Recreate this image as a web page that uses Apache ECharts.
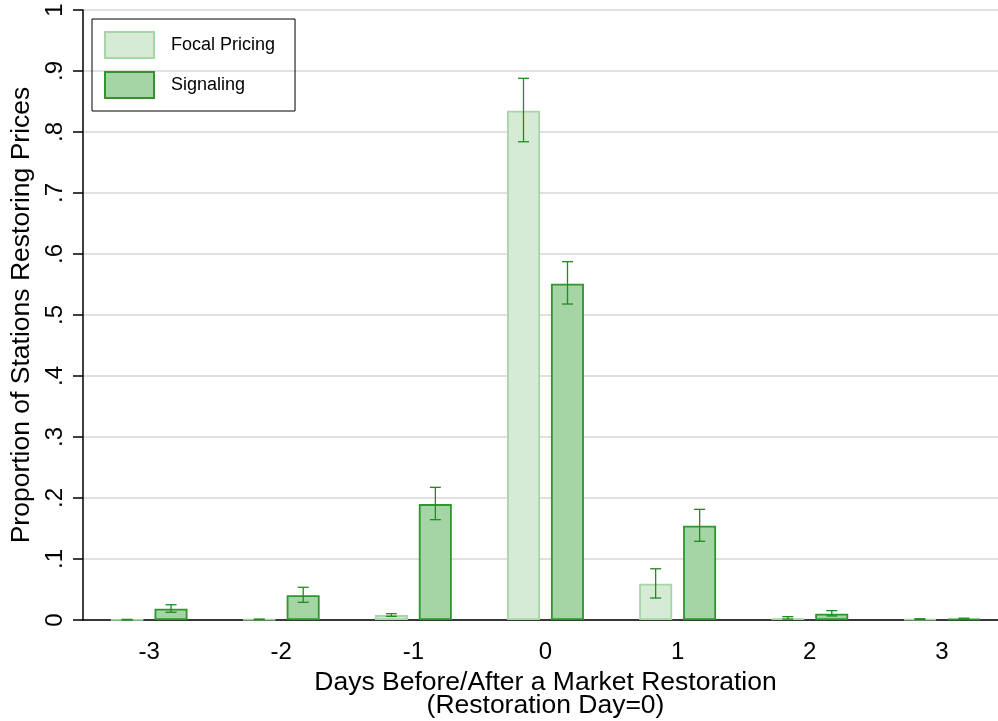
<!DOCTYPE html>
<html>
<head>
<meta charset="utf-8">
<script src="https://cdn.jsdelivr.net/npm/echarts@6/dist/echarts.min.js"></script>
<style>html,body{margin:0;padding:0;background:#fff}#c{width:998px;height:721px}</style>
</head>
<body>
<div id="c"></div>
<script>
var categories = ['-3', '-2', '-1', '0', '1', '2', '3'];
var focal = [0.0005, 0.001, 0.008, 0.835, 0.0595, 0.003, 0.0015];
var focalLow = [0.0, 0.0005, 0.006, 0.784, 0.036, 0.0015, 0.001];
var focalHigh = [0.001, 0.0015, 0.0103, 0.888, 0.084, 0.0055, 0.002];
var signal = [0.0185, 0.0405, 0.190, 0.5514, 0.1546, 0.0104, 0.002];
var signalLow = [0.0126, 0.029, 0.1645, 0.518, 0.129, 0.0066, 0.001];
var signalHigh = [0.025, 0.0536, 0.2175, 0.5874, 0.1814, 0.0153, 0.003];
var yTicks = ['0', '.1', '.2', '.3', '.4', '.5', '.6', '.7', '.8', '.9', '1'];

var FONT = "'Liberation Sans', Arial, Helvetica, sans-serif";
var ERR = '#1e8c1e';

function errData(lo, hi) {
  return categories.map(function (c, i) { return [i, lo[i], hi[i]]; });
}
function errRender(offset) {
  return function (params, api) {
    var i = api.value(0);
    var top = api.coord([i, api.value(2)]);
    var bot = api.coord([i, api.value(1)]);
    var x = top[0] + offset;
    var cap = 5.5;
    var st = { stroke: ERR, lineWidth: 1.3 };
    return {
      type: 'group',
      children: [
        { type: 'line', shape: { x1: x, y1: top[1], x2: x, y2: bot[1] }, style: st },
        { type: 'line', shape: { x1: x - cap, y1: top[1], x2: x + cap, y2: top[1] }, style: st },
        { type: 'line', shape: { x1: x - cap, y1: bot[1], x2: x + cap, y2: bot[1] }, style: st }
      ]
    };
  };
}

var chart = echarts.init(document.getElementById('c'));
chart.setOption({
  animation: false,
  backgroundColor: '#fff',
  textStyle: { fontFamily: FONT, color: '#000' },
  grid: { left: 83, width: 925, top: 10, height: 610, containLabel: false, outerBoundsMode: 'none' },
  legend: {
    left: 92, top: 19,
    orient: 'vertical',
    icon: 'rect',
    itemWidth: 49, itemHeight: 26, itemGap: 12,
    padding: [12, 20, 12, 12],
    borderColor: '#000', borderWidth: 1,
    textStyle: { fontFamily: FONT, fontSize: 18, color: '#000', padding: [0, 0, 0, 12] },
    data: ['Focal Pricing', 'Signaling']
  },
  xAxis: {
    type: 'category',
    data: categories,
    name: 'Days Before/After a Market Restoration\n(Restoration Day=0)',
    nameLocation: 'middle',
    nameGap: 50,
    nameTextStyle: { fontFamily: FONT, fontSize: 26.5, color: '#000', lineHeight: 23 },
    axisLine: { lineStyle: { color: '#000', width: 1.5 } },
    axisTick: { alignWithLabel: true, length: 10, lineStyle: { color: '#000', width: 1.5 } },
    axisLabel: { fontFamily: FONT, fontSize: 24, color: '#000', margin: 20 },
    splitLine: { show: false }
  },
  yAxis: {
    type: 'value',
    min: 0, max: 1, interval: 0.1,
    name: 'Proportion of Stations Restoring Prices',
    nameLocation: 'middle',
    nameGap: 47,
    nameTextStyle: { fontFamily: FONT, fontSize: 26.5, color: '#000' },
    axisLine: { show: true, lineStyle: { color: '#000', width: 1.5 } },
    axisTick: { show: true, length: 10, lineStyle: { color: '#000', width: 1.5 } },
    axisLabel: {
      fontFamily: FONT, fontSize: 24, color: '#000', rotate: 90, margin: 16,
      formatter: function (v) { return yTicks[Math.round(v * 10)]; }
    },
    splitLine: { show: true, lineStyle: { color: '#e0e0e0', width: 2 } }
  },
  series: [
    {
      name: 'Focal Pricing', type: 'bar', data: focal,
      barWidth: 33, barGap: '33%',
      itemStyle: { color: '#d5ebd5', borderColor: '#a6d5a6', borderWidth: 1.8 }
    },
    {
      name: 'Signaling', type: 'bar', data: signal,
      barWidth: 33, barGap: '33%',
      itemStyle: { color: '#a5d4a5', borderColor: '#2e962e', borderWidth: 1.8 }
    },
    {
      type: 'custom', name: 'focalErr', data: errData(focalLow, focalHigh),
      renderItem: errRender(-22), encode: { x: 0, y: [1, 2] }, z: 5, silent: true
    },
    {
      type: 'custom', name: 'signalErr', data: errData(signalLow, signalHigh),
      renderItem: errRender(22), encode: { x: 0, y: [1, 2] }, z: 5, silent: true
    }
  ]
});
</script>
</body>
</html>
